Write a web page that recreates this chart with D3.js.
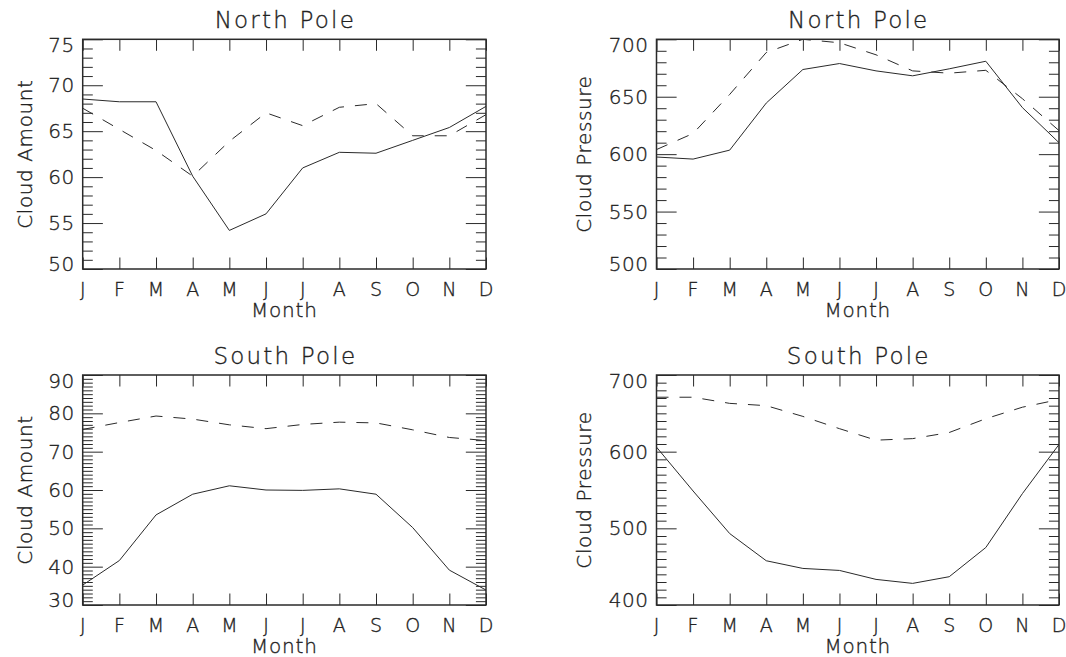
<!DOCTYPE html>
<html>
<head>
<meta charset="utf-8">
<script src="https://cdn.jsdelivr.net/npm/d3@7"></script>
<style>
  html, body { margin: 0; padding: 0; background: #fff; }
  svg text { font-family: "DejaVu Sans", "Liberation Sans", sans-serif; font-weight: 200;
             fill: #222; stroke: #222; stroke-width: 0.35px; }
</style>
</head>
<body>
<svg id="chart" width="1066" height="657"></svg>
<script>
// Monthly polar cloud climatology: amount (%) and top pressure (hPa)
const months = ["J", "F", "M", "A", "M", "J", "J", "A", "S", "O", "N", "D"];

// North Pole, cloud amount
const npAmountSolid  = [68.5, 68.2, 68.2, 60.1, 54.2, 56.0, 61.0, 62.7, 62.6, 64.0, 65.4, 67.7];
const npAmountDashed = [67.5, 65.2, 62.9, 60.1, 63.9, 67.0, 65.6, 67.6, 68.0, 64.5, 64.5, 66.8];

// North Pole, cloud pressure
const npPressSolid  = [597.5, 595.7, 603.5, 644.5, 673.7, 678.9, 672.5, 668.2, 674.3, 680.9, 640.5, 610.0];
const npPressDashed = [604.0, 618.0, 652.0, 688.5, 700.0, 697.0, 686.5, 672.5, 670.5, 673.0, 648.3, 620.5];

// South Pole, cloud amount
const spAmountSolid  = [35.2, 41.6, 53.5, 58.9, 61.1, 60.0, 59.9, 60.3, 58.9, 50.2, 39.1, 33.9];
const spAmountDashed = [75.8, 77.6, 79.3, 78.5, 77.0, 76.0, 77.1, 77.7, 77.5, 75.7, 73.7, 72.9];

// South Pole, cloud pressure
const spPressSolid  = [605.9, 548.7, 493.2, 457.7, 447.7, 445.1, 433.4, 428.2, 436.9, 475.0, 545.3, 609.4];
const spPressDashed = [671.0, 671.0, 663.0, 660.0, 646.0, 630.0, 615.0, 617.0, 625.0, 643.0, 658.0, 668.0];

// Y-axis ranges and tick steps [min, max, major step, minor step]
const npAmountAxis = [50, 75, 5, 1];
const npPressAxis  = [500, 700, 50, 10];
const spAmountAxis = [30, 90, 10, 1];
const spPressAxis  = [400, 700, 100, 10];

const titles  = ["North Pole", "North Pole", "South Pole", "South Pole"];
const yTitles = ["Cloud Amount", "Cloud Pressure", "Cloud Amount", "Cloud Pressure"];
const xTitle  = "Month";

// Panel frames: left, right, top, bottom
const frames = [
  [82.7, 486, 39.3, 269],
  [656.5, 1059, 39.3, 269],
  [82.7, 486, 375, 605],
  [656.5, 1059, 375, 605]
];

const panels = [
  { axis: npAmountAxis, solid: npAmountSolid, dashed: npAmountDashed, yOff: 50.5 },
  { axis: npPressAxis,  solid: npPressSolid,  dashed: npPressDashed,  yOff: 65.5 },
  { axis: spAmountAxis, solid: spAmountSolid, dashed: spAmountDashed, yOff: 50.5 },
  { axis: spPressAxis,  solid: spPressSolid,  dashed: spPressDashed,  yOff: 65.5 }
];

const svg = d3.select("#chart");
svg.append("rect").attr("width", 1066).attr("height", 657).attr("fill", "#fff");

const ink = "#2a2a2a";

panels.forEach((p, i) => {
  const [left, right, top, bottom] = frames[i];
  const [lo, hi, majorStep, minorStep] = p.axis;
  const w = right - left, h = bottom - top;

  const x = d3.scaleLinear().domain([0, months.length - 1]).range([left, right]);
  const y = d3.scaleLinear().domain([lo, hi]).range([bottom, top]);

  const majors = d3.range(lo, hi + majorStep / 2, majorStep);
  const minors = d3.range(lo, hi + minorStep / 2, minorStep)
    .filter(v => Math.abs((v - lo) / majorStep - Math.round((v - lo) / majorStep)) > 1e-6);

  const g = svg.append("g");

  const yMajorLen = w * 0.05, yMinorLen = w * 0.025, xLen = h * 0.05;

  // Minor y ticks on both sides
  g.append("g").attr("transform", `translate(${left},0)`)
    .call(d3.axisRight(y).tickValues(minors).tickSize(yMinorLen).tickFormat(""));
  g.append("g").attr("transform", `translate(${right},0)`)
    .call(d3.axisLeft(y).tickValues(minors).tickSize(yMinorLen).tickFormat(""));
  // Major y ticks on both sides
  g.append("g").attr("transform", `translate(${left},0)`)
    .call(d3.axisRight(y).tickValues(majors).tickSize(yMajorLen).tickFormat(""));
  g.append("g").attr("transform", `translate(${right},0)`)
    .call(d3.axisLeft(y).tickValues(majors).tickSize(yMajorLen).tickFormat(""));
  // Month ticks on top and bottom
  g.append("g").attr("transform", `translate(0,${bottom})`)
    .call(d3.axisTop(x).tickValues(d3.range(months.length)).tickSize(xLen).tickFormat(""));
  g.append("g").attr("transform", `translate(0,${top})`)
    .call(d3.axisBottom(x).tickValues(d3.range(months.length)).tickSize(xLen).tickFormat(""));

  g.selectAll(".domain").remove();
  g.selectAll(".tick line").attr("stroke", ink).attr("stroke-width", 1);

  // Plot frame
  g.append("rect")
    .attr("x", left).attr("y", top).attr("width", w).attr("height", h)
    .attr("fill", "none").attr("stroke", ink).attr("stroke-width", 1.5);

  // Y tick labels; end labels nudged inward
  g.selectAll(".ylab").data(majors).join("text")
    .attr("class", "ylab")
    .attr("x", left - 8)
    .attr("y", (d, k) => y(d) + 7 + (k === 0 ? -5.5 : k === majors.length - 1 ? 5.5 : 0))
    .attr("text-anchor", "end")
    .attr("font-size", 20)
    .attr("letter-spacing", 0.5)
    .text(d => d);

  // Month labels
  g.selectAll(".xlab").data(months).join("text")
    .attr("class", "xlab")
    .attr("x", (d, k) => x(k))
    .attr("y", bottom + 27)
    .attr("text-anchor", "middle")
    .attr("font-size", 19)
    .text(d => d);

  // Titles
  g.append("text")
    .attr("x", (left + right) / 2 + 1)
    .attr("y", top - 11.5)
    .attr("text-anchor", "middle")
    .attr("font-size", 23)
    .attr("letter-spacing", 2.2)
    .text(titles[i]);

  g.append("text")
    .attr("x", (left + right) / 2)
    .attr("y", bottom + 48)
    .attr("text-anchor", "middle")
    .attr("font-size", 20)
    .attr("letter-spacing", 0.8)
    .text(xTitle);

  g.append("text")
    .attr("transform", `translate(${left - p.yOff},${(top + bottom) / 2}) rotate(-90)`)
    .attr("text-anchor", "middle")
    .attr("font-size", 20)
    .attr("letter-spacing", 0.6)
    .text(yTitles[i]);

  // Series lines
  const line = d3.line().x((d, k) => x(k)).y(d => y(d));
  const clipId = "clip" + i;
  svg.append("clipPath").attr("id", clipId)
    .append("rect").attr("x", left).attr("y", top).attr("width", w).attr("height", h);

  g.append("path").datum(p.solid)
    .attr("d", line).attr("fill", "none")
    .attr("stroke", ink).attr("stroke-width", 1)
    .attr("clip-path", `url(#${clipId})`);

  g.append("path").datum(p.dashed)
    .attr("d", line).attr("fill", "none")
    .attr("stroke", ink).attr("stroke-width", 1)
    .attr("stroke-dasharray", "12,11")
    .attr("clip-path", `url(#${clipId})`);
});
</script>
</body>
</html>
